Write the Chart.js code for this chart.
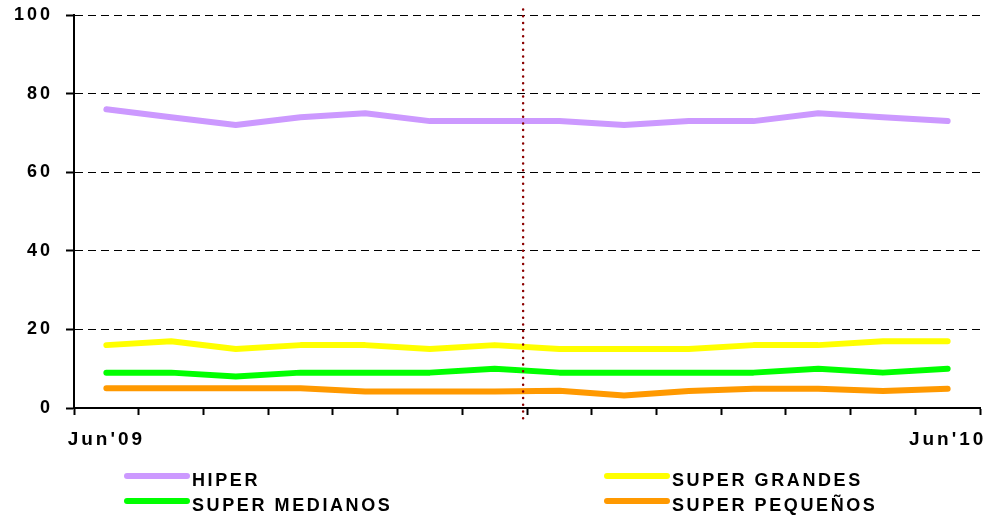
<!DOCTYPE html>
<html>
<head>
<meta charset="utf-8">
<script src="https://cdn.jsdelivr.net/npm/chart.js@4"></script>
<style>
html,body{margin:0;padding:0;background:#fff;}
#wrap{position:relative;width:996px;height:515px;overflow:hidden;}
#c{position:absolute;left:0;top:0;}
#legend{position:absolute;left:0;top:0;width:996px;height:515px;pointer-events:none;
  font:bold 18px "Liberation Sans",Arial,sans-serif;letter-spacing:2.6px;color:#000;}
.item{position:absolute;height:20px;white-space:nowrap;line-height:20px;}
.swatch{position:absolute;left:0;top:3px;width:66px;height:6px;border-radius:3px;}
.txt{position:absolute;left:68px;top:0;}
</style>
</head>
<body>
<div id="wrap">
  <canvas id="c" width="996" height="515"></canvas>
  <div id="legend"></div>
</div>
<script>
// ---- data ----
const tickLabels = ["Jun'09","","","","","","","","","","","","","Jun'10"];
const seriesNames = ["HIPER","SUPER GRANDES","SUPER MEDIANOS","SUPER PEQUEÑOS"];
const hiper         = [76, 74, 72, 74, 75, 73, 73, 73, 72, 73, 73, 75, 74, 73];
const superGrandes  = [16, 17, 15, 16, 16, 15, 16, 15, 15, 15, 16, 16, 17, 17];
const superMedianos = [9, 9, 8, 9, 9, 9, 10, 9, 9, 9, 9, 10, 9, 10];
const superPequenos = [5, 5, 5, 5, 4.2, 4.2, 4.2, 4.4, 3.2, 4.3, 4.9, 4.9, 4.3, 4.9];
const yTicks = [0, 20, 40, 60, 80, 100];
const seriesColors = ["#CC99FF", "#FFFF00", "#00FF00", "#FF9900"];
const dividerPosition = 6.44;      // category position of the dotted separator
const dividerRange = [-3.6, 101.4]; // value range spanned by the separator

const seriesValues = [hiper, superGrandes, superMedianos, superPequenos];
const FONT = '"Liberation Sans", Arial, sans-serif';

const spacingPlugin = {
  id: 'spacing',
  beforeLayout(chart){ chart.ctx.letterSpacing = '3px'; },
  beforeDraw(chart){ chart.ctx.letterSpacing = '3px'; }
};

const dividerPlugin = {
  id: 'divider',
  afterDatasetsDraw(chart){
    const xs = chart.scales.x, ys = chart.scales.y;
    const i0 = Math.floor(dividerPosition);
    const a = xs.getPixelForValue(i0), b = xs.getPixelForValue(i0 + 1);
    const px = a + (dividerPosition - i0) * (b - a);
    const ctx = chart.ctx;
    ctx.save();
    ctx.strokeStyle = '#8B0000';
    ctx.lineWidth = 2.5;
    ctx.lineCap = 'round';
    ctx.setLineDash([0, 6.7]);
    ctx.beginPath();
    ctx.moveTo(px, ys.getPixelForValue(dividerRange[1]));
    ctx.lineTo(px, ys.getPixelForValue(dividerRange[0]));
    ctx.stroke();
    ctx.restore();
  }
};

new Chart(document.getElementById('c'), {
  type: 'line',
  data: {
    labels: tickLabels,
    datasets: seriesNames.map((name, i) => ({
      label: name,
      data: seriesValues[i],
      borderColor: seriesColors[i],
      backgroundColor: seriesColors[i],
      borderWidth: 6,
      borderCapStyle: 'round',
      borderJoinStyle: 'round',
      pointRadius: 0,
      pointHoverRadius: 0,
      tension: 0,
      fill: false
    }))
  },
  options: {
    responsive: false,
    animation: false,
    events: [],
    layout: { padding: { left: 0, top: 15, right: 16, bottom: 0 } },
    plugins: { legend: { display: false }, title: { display: false }, tooltip: { enabled: false } },
    scales: {
      x: {
        type: 'category',
        offset: true,
        grid: { display: true, offset: true, drawOnChartArea: false, drawTicks: true,
                tickLength: 7, tickWidth: 2, color: '#000', tickColor: '#000' },
        border: { display: true, color: '#000', width: 2 },
        ticks: { autoSkip: false, maxRotation: 0, minRotation: 0, padding: 13, color: '#000',
                 font: { family: FONT, size: 19, weight: 'bold' } },
        afterFit(s){ s.height = 107; s.paddingLeft = 0; s.paddingRight = 0; s.paddingTop = 0; s.paddingBottom = 0; }
      },
      y: {
        min: 0, max: 100,
        afterBuildTicks(s){ s.ticks = yTicks.map(v => ({ value: v })); },
        grid: { display: true, drawOnChartArea: true, drawTicks: true, tickLength: 8, tickWidth: 2,
                color: '#000', lineWidth: 1, tickColor: '#000' },
        border: { display: true, color: '#000', width: 2, dash: [8, 5] },
        ticks: { padding: 13, color: '#000', font: { family: FONT, size: 18, weight: 'bold' } },
        afterFit(s){ s.width = 74; s.paddingTop = 0; s.paddingBottom = 0; s.paddingLeft = 0; s.paddingRight = 0; }
      }
    }
  },
  plugins: [spacingPlugin, dividerPlugin]
});

// ---- legend (2 columns) ----
const legendCols = [124, 604];
const legendRows = [470, 494.5];
const legend = document.getElementById('legend');
seriesNames.forEach((name, i) => {
  const item = document.createElement('div');
  item.className = 'item';
  item.style.left = legendCols[i % 2] + 'px';
  item.style.top = legendRows[Math.floor(i / 2)] + 'px';
  const sw = document.createElement('span');
  sw.className = 'swatch';
  sw.style.background = seriesColors[i];
  const tx = document.createElement('span');
  tx.className = 'txt';
  tx.textContent = name;
  item.appendChild(sw);
  item.appendChild(tx);
  legend.appendChild(item);
});
</script>
</body>
</html>
